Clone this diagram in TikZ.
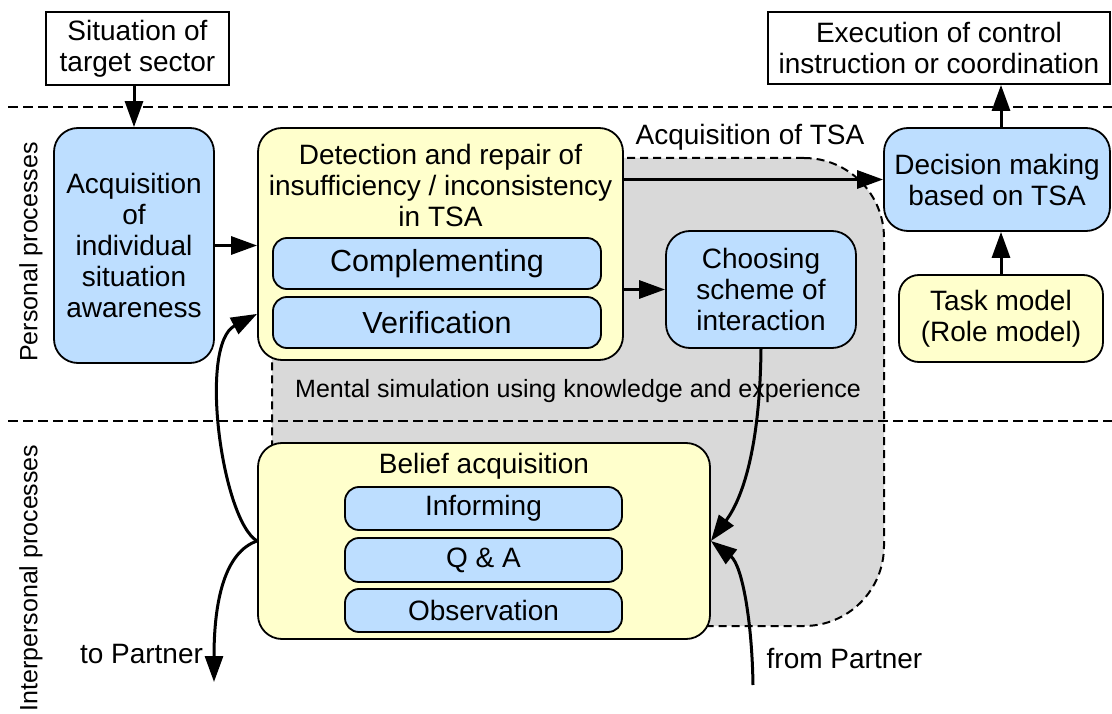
\documentclass[tikz,border=0pt]{standalone}
\usepackage{fontspec}
\setmainfont{Liberation Sans}
\usetikzlibrary{arrows.meta}
\definecolor{bfill}{HTML}{BDDEFF}
\definecolor{yfill}{HTML}{FFFFCC}
\definecolor{gfill}{HTML}{D9D9D9}
\begin{document}
\begin{tikzpicture}[x=1pt,y=-1pt,
  every node/.style={inner sep=0pt, align=center, font=\fontsize{28}{31}\selectfont},
  box/.style={draw=black, line width=1.8pt},
  wbox/.style={box, fill=white},
  bbox/.style={box, fill=bfill, rounded corners=24pt},
  ybox/.style={box, fill=yfill, rounded corners=24pt},
  sbbox/.style={box, fill=bfill, rounded corners=14pt},
  bigt/.style={font=\fontsize{30.5}{33}\selectfont},
  arr/.style={line width=3pt, -{Triangle[length=26pt,width=18pt]}},
  sep/.style={line width=2.5pt, dash pattern=on 10pt off 5pt},
  lbl/.style={font=\fontsize{25}{28}\selectfont}]
\useasboundingbox (0,0) rectangle (1112,714);
% shared TSA region
\node[fill=gfill, draw=black, line width=2pt, dash pattern=on 8pt off 5pt,
      rounded corners=80pt, minimum width=612pt, minimum height=468pt] (tsa) at (578,392) {};
% separators
\draw[sep] (8,107) -- (1112,107);
\draw[sep] (8,421) -- (1112,421);
% boxes
\node[wbox, minimum width=183pt, minimum height=73pt] (sit) at (137.5,48.5) {Situation of\\target sector};
\node[wbox, minimum width=342pt, minimum height=72pt] (exec) at (939,48) {Execution of control\\instruction or coordination};
\node[bbox, minimum width=160pt, minimum height=235pt] (acq) at (134,245.5) {Acquisition\\of\\individual\\situation\\awareness};
\node[ybox, minimum width=365pt, minimum height=232pt] (det) at (440.5,244) {};
\node (dett) at (440.5,185) {Detection and repair of\\insufficiency / inconsistency\\in TSA};
\node[sbbox, bigt, minimum width=328pt, minimum height=51pt] (comp) at (437,263.5) {Complementing};
\node[sbbox, bigt, minimum width=328pt, minimum height=51pt] (ver) at (437,322.5) {Verification};
\node[bbox, minimum width=190pt, minimum height=117pt] (choose) at (761,289.5) {Choosing\\scheme of\\interaction};
\node[bbox, minimum width=226pt, minimum height=103pt] (dec) at (997,179.5) {Decision making\\based on TSA};
\node[ybox, rounded corners=20pt, minimum width=204pt, minimum height=87pt] (task) at (1001,318.5) {Task model\\(Role model)};
\node[ybox, minimum width=452pt, minimum height=196pt] (belief) at (484,541) {};
\node[anchor=base] (belieft) at (484,473) {Belief acquisition};
\node[sbbox, minimum width=277pt, minimum height=43pt] (inform) at (483.5,508.5) {Informing};
\node[sbbox, minimum width=277pt, minimum height=44pt] (qa) at (483.5,560) {Q \& A};
\node[sbbox, minimum width=277pt, minimum height=43pt] (obs) at (483.5,610.5) {Observation};
% labels
\node[anchor=base] (tsal) at (750,145) {Acquisition of TSA};
\node[lbl] (ment) at (578,391) {Mental simulation using knowledge and experience};
\node[lbl, rotate=90] (pp) at (31,252) {Personal processes};
\node[lbl, rotate=90] (ip) at (31,578) {Interpersonal processes};
\node[anchor=base] (top) at (141.5,663) {to Partner};
\node[anchor=base] (fromp) at (844.5,668) {from Partner};
% connectors
\draw[arr] (sit.south -| acq.north) -- (acq.north);
\draw[arr] (acq.east) -- (acq.east -| det.west);
\draw[arr] (det.east |- dec.west) -- (dec.west);
\draw[arr] (det.east |- choose.west) -- (choose.west);
\draw[arr] (task.north) -- (task.north |- dec.south);
\draw[arr] (task.north |- dec.north) -- (task.north |- exec.south);
\path (det.south west) ++(0,-47) coordinate (vin);
\draw[arr] (belief.west) .. controls (222,520) and (198,345) .. (vin);
\coordinate (tp) at (214,682);
\draw[arr] (belief.west) .. controls (225,552) and (214,600) .. (tp);
\draw[arr] (choose.south) .. controls (760,440) and (745,495) .. (belief.east);
\coordinate (fp) at (753,685);
\draw[arr] (fp) .. controls (752,620) and (742,565) .. (belief.east);
\end{tikzpicture}
\end{document}
